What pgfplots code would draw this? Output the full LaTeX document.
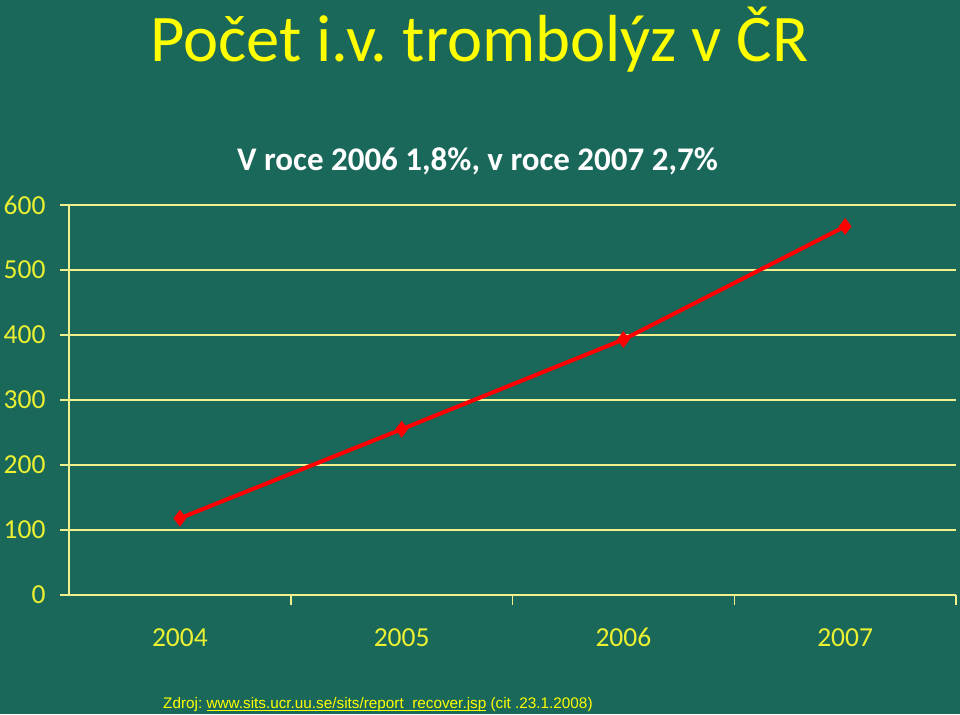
\documentclass[border=0pt]{standalone}
\usepackage{fontspec}
\setmainfont{Carlito}
\newfontfamily\arialfont{Liberation Sans}
\usepackage{pgfplots}
\pgfplotsset{compat=1.18}
\usepackage{pgfplotstable}
\definecolor{bg}{RGB}{25,104,90}
\definecolor{ttl}{RGB}{255,255,0}
\definecolor{lbl}{RGB}{235,240,50}
\definecolor{gridc}{RGB}{240,240,140}
\frenchspacing
\newlength\ulw
\newcommand\myul[1]{\settowidth\ulw{#1}\rlap{\rule[-1.6pt]{\ulw}{0.9pt}}#1}

\pgfplotstableread{
x year val
1 2004 118
2 2005 255
3 2006 393
4 2007 567
}\trombolyzy

\begin{document}
\begin{tikzpicture}[x=1pt,y=1pt]
\fill[bg, use as bounding box] (0,0) rectangle (960,714);
\node[anchor=base west, text=ttl, inner sep=0pt, font=\fontsize{66.6}{76}\selectfont] at (150,652) {Počet i.v. trombolýz v ČR};
\node[anchor=base west, text=white, inner sep=0pt, font=\fontsize{33}{40}\selectfont\bfseries] at (237,543) {V roce 2006 1,8\%, v roce 2007 2,7\%};
\node[anchor=base west, text=ttl, inner sep=0pt, font=\arialfont\fontsize{15.3}{18}\selectfont] at (163,5)
  {Zdroj: \myul{www.sits.ucr.uu.se/sits/report\_recover.jsp} (cit .23.1.2008)};
\begin{axis}[
  at={(69pt,119pt)}, anchor=south west,
  scale only axis, width=887pt, height=390pt,
  xmin=0.5, xmax=4.5, ymin=0, ymax=600,
  axis x line=bottom, axis y line=left,
  axis line style={draw=gridc, line width=2pt, -},
  xtick={1,2,3,4}, xticklabels={2004,2005,2006,2007},
  minor xtick={1.5,2.5,3.5,4.5},
  ytick={0,100,...,600},
  ymajorgrids,
  grid style={draw=gridc, line width=2pt},
  tick align=outside,
  major tick length=9pt, minor tick length=10pt,
  every major x tick/.append style={draw=none},
  every minor x tick/.append style={draw=gridc, line width=1.5pt},
  every major y tick/.append style={draw=gridc, line width=2pt},
  ticklabel style={text=lbl, font=\fontsize{27.5}{32}\selectfont},
  /pgf/number format/assume math mode=true,
  yticklabel style={anchor=east, xshift=-11pt},
  xticklabel style={anchor=base, yshift=-43pt},
  clip=false,
]
\addplot[red, line width=4pt, mark=diamond*, mark size=8pt, mark options={fill=red, draw=red, line width=0.5pt}]
  table[x=x, y=val] {\trombolyzy};
\end{axis}
\end{tikzpicture}
\end{document}
